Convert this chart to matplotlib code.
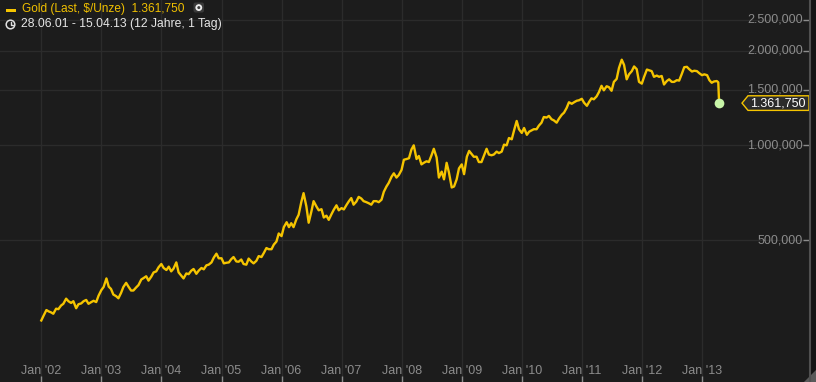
import matplotlib
matplotlib.use('Agg')
import matplotlib.pyplot as plt
import matplotlib.dates as mdates
import pandas as pd
from matplotlib.patches import Polygon, Circle, Rectangle, FancyBboxPatch

plt.rcParams['font.family'] = ['Liberation Sans', 'DejaVu Sans']

dates = pd.date_range('2002-01-01', '2013-04-01', freq='SMS')
p2002 = [278, 288, 300, 297, 295, 292, 303, 302, 310, 314, 326, 320,
         316, 320, 304, 313, 315, 320, 323, 314, 318, 321, 318, 333]
p2003 = [347, 355, 378, 356, 350, 336, 332, 327, 340, 355, 366, 356,
         346, 346, 354, 360, 375, 379, 384, 372, 383, 395, 398, 410]
p2004 = [420, 408, 402, 412, 398, 406, 425, 395, 386, 378, 392, 390,
         400, 405, 391, 400, 408, 404, 416, 418, 425, 440, 453, 438]
p2005 = [438, 422, 424, 425, 435, 442, 428, 427, 434, 420, 418, 437,
         428, 422, 430, 445, 442, 455, 472, 468, 468, 484, 495, 525]
p2006 = [515, 550, 570, 550, 566, 550, 582, 602, 660, 705, 640, 568,
         615, 665, 640, 622, 627, 590, 598, 580, 605, 625, 645, 622]
p2007 = [632, 626, 648, 665, 680, 648, 663, 686, 678, 665, 660, 655,
         648, 665, 665, 660, 672, 712, 740, 760, 795, 815, 790, 805]
p2008 = [836, 900, 905, 910, 970, 1000, 905, 925, 870, 880, 890, 885,
         930, 975, 915, 790, 825, 780, 880, 820, 735, 740, 780, 845]
p2009 = [870, 810, 920, 960, 940, 920, 920, 885, 885, 925, 975, 935,
         930, 935, 955, 945, 955, 1005, 1000, 1055, 1045, 1115, 1195, 1125]
p2010 = [1095, 1135, 1080, 1105, 1115, 1125, 1125, 1155, 1180, 1230, 1225, 1240,
         1210, 1200, 1180, 1215, 1250, 1270, 1315, 1370, 1355, 1370, 1385, 1390]
p2011 = [1405, 1365, 1335, 1375, 1410, 1400, 1430, 1475, 1545, 1495, 1540, 1530,
         1490, 1590, 1625, 1760, 1870, 1800, 1620, 1680, 1720, 1780, 1745, 1590]
p2012 = [1570, 1650, 1740, 1730, 1720, 1650, 1665, 1650, 1660, 1560, 1600, 1620,
         1590, 1590, 1610, 1605, 1690, 1770, 1775, 1745, 1715, 1725, 1720, 1695]
p2013 = [1670, 1680, 1670, 1610, 1580, 1595, 1600]

# the April 2013 crash
tail_dates = pd.to_datetime(['2013-04-10', '2013-04-12', '2013-04-15'])
tail_prices = [1585, 1500, 1361.75]

prices = p2002 + p2003 + p2004 + p2005 + p2006 + p2007 + p2008 + p2009 + p2010 + p2011 + p2012 + p2013
all_dates = list(dates) + list(tail_dates)
all_prices = prices + tail_prices

year_ticks = pd.to_datetime(['%d-01-01' % y for y in range(2002, 2014)])
year_labels = ["Jan '%02d" % (y % 100) for y in range(2002, 2014)]
y_ticks = [500, 1000, 1500, 2000, 2500]
y_labels = ['500,000', '1.000,000', '1.500,000', '2.000,000', '2.500,000']

title_txt = 'Gold (Last, $/Unze)  1.361,750'
range_txt = '28.06.01 - 15.04.13 (12 Jahre, 1 Tag)'
last_txt = '1.361,750'

BG = '#1c1c1c'
GRID = '#2b2b2b'
TXT = '#8c8c8c'
GOLD = '#f5c400'

W, H = 816, 382
fig = plt.figure(figsize=(W / 100, H / 100), dpi=100, facecolor=BG)
ax = fig.add_axes([0, 0, 809 / W, 1], facecolor=BG)

ax.plot(all_dates, all_prices, color=GOLD, lw=1.7, solid_joinstyle='round', zorder=3)
ax.plot(all_dates[-1], all_prices[-1], 'o', ms=7, color='#c8f5a8', mec='none', zorder=4)

ax.set_yscale('log')
ax.set_ylim(177.3, 2893)
px_day = (702 - 41.3) / 4018
x0 = mdates.date2num(pd.Timestamp('2002-01-01'))
ax.set_xlim(x0 - 41.3 / px_day, x0 + (809 - 41.3) / px_day)

ax.set_xticks(year_ticks)
ax.set_yticks(y_ticks)
ax.yaxis.set_minor_locator(matplotlib.ticker.NullLocator())
ax.tick_params(axis='x', direction='in', length=4, width=1, color=TXT, labelbottom=False)
ax.tick_params(axis='y', direction='in', length=4, width=1, color=TXT, left=False,
               right=True, labelleft=False)
ax.grid(True, color=GRID, lw=1)
for s in ax.spines.values():
    s.set_visible(False)

for d, lab in zip(year_ticks, year_labels):
    ax.text(d, (H - 371) / H, lab, transform=ax.get_xaxis_transform(),
            ha='center', va='center', color=TXT, fontsize=9)
for v, lab in zip(y_ticks, y_labels):
    ax.text(803 / 809, v, lab, transform=ax.get_yaxis_transform(),
            ha='right', va='center', color=TXT, fontsize=9)

# overlay in pixel coordinates for header and the last-value tag
fig.canvas.draw()
yc = H - ax.transData.transform((mdates.date2num(all_dates[-1]), all_prices[-1]))[1]

ov = fig.add_axes([0, 0, 1, 1])
ov.set_xlim(0, W)
ov.set_ylim(H, 0)
ov.axis('off')
ov.patch.set_alpha(0)

ov.add_patch(Rectangle((810, 0), 6, H, fc='#141414', ec='none'))
ov.plot([810, 810], [0, H], color='#505050', lw=1.5)
ov.add_patch(Polygon([(816, 370), (816, 382), (804, 382)], fc='#5a5a5a', ec='none'))

ov.add_patch(Polygon([(742, yc), (748, yc - 7.3), (809, yc - 7.3), (809, yc + 7.3),
                      (748, yc + 7.3)], closed=True, fc='#2b2b2b', ec=GOLD, lw=1))
ov.text(778, yc, last_txt, ha='center', va='center', color='white', fontsize=9)

ov.add_patch(Rectangle((6, 9), 10, 3, fc=GOLD, ec='none'))
ov.text(22, 9, title_txt, ha='left', va='center', color='#f0c000', fontsize=8.6)
ov.add_patch(FancyBboxPatch((193.5, 2.5), 10.5, 10, boxstyle='round,pad=0,rounding_size=2',
                            fc='#3a3a3a', ec='none'))
ov.add_patch(Circle((198.8, 7.6), 3.4, fc='#eeeeee', ec='none'))
ov.add_patch(Circle((198.8, 7.6), 1.5, fc='#3a3a3a', ec='none'))

ov.add_patch(Circle((10.5, 24.5), 4.3, fill=False, ec='#e0e0e0', lw=1.1))
ov.plot([10.5, 10.5, 12.8], [21.6, 24.5, 24.5], color='#e0e0e0', lw=1)
ov.text(21, 24.5, range_txt, ha='left', va='center', color='#e6e6e6', fontsize=8.7)

fig.savefig('out.png', dpi=100, facecolor=BG)
